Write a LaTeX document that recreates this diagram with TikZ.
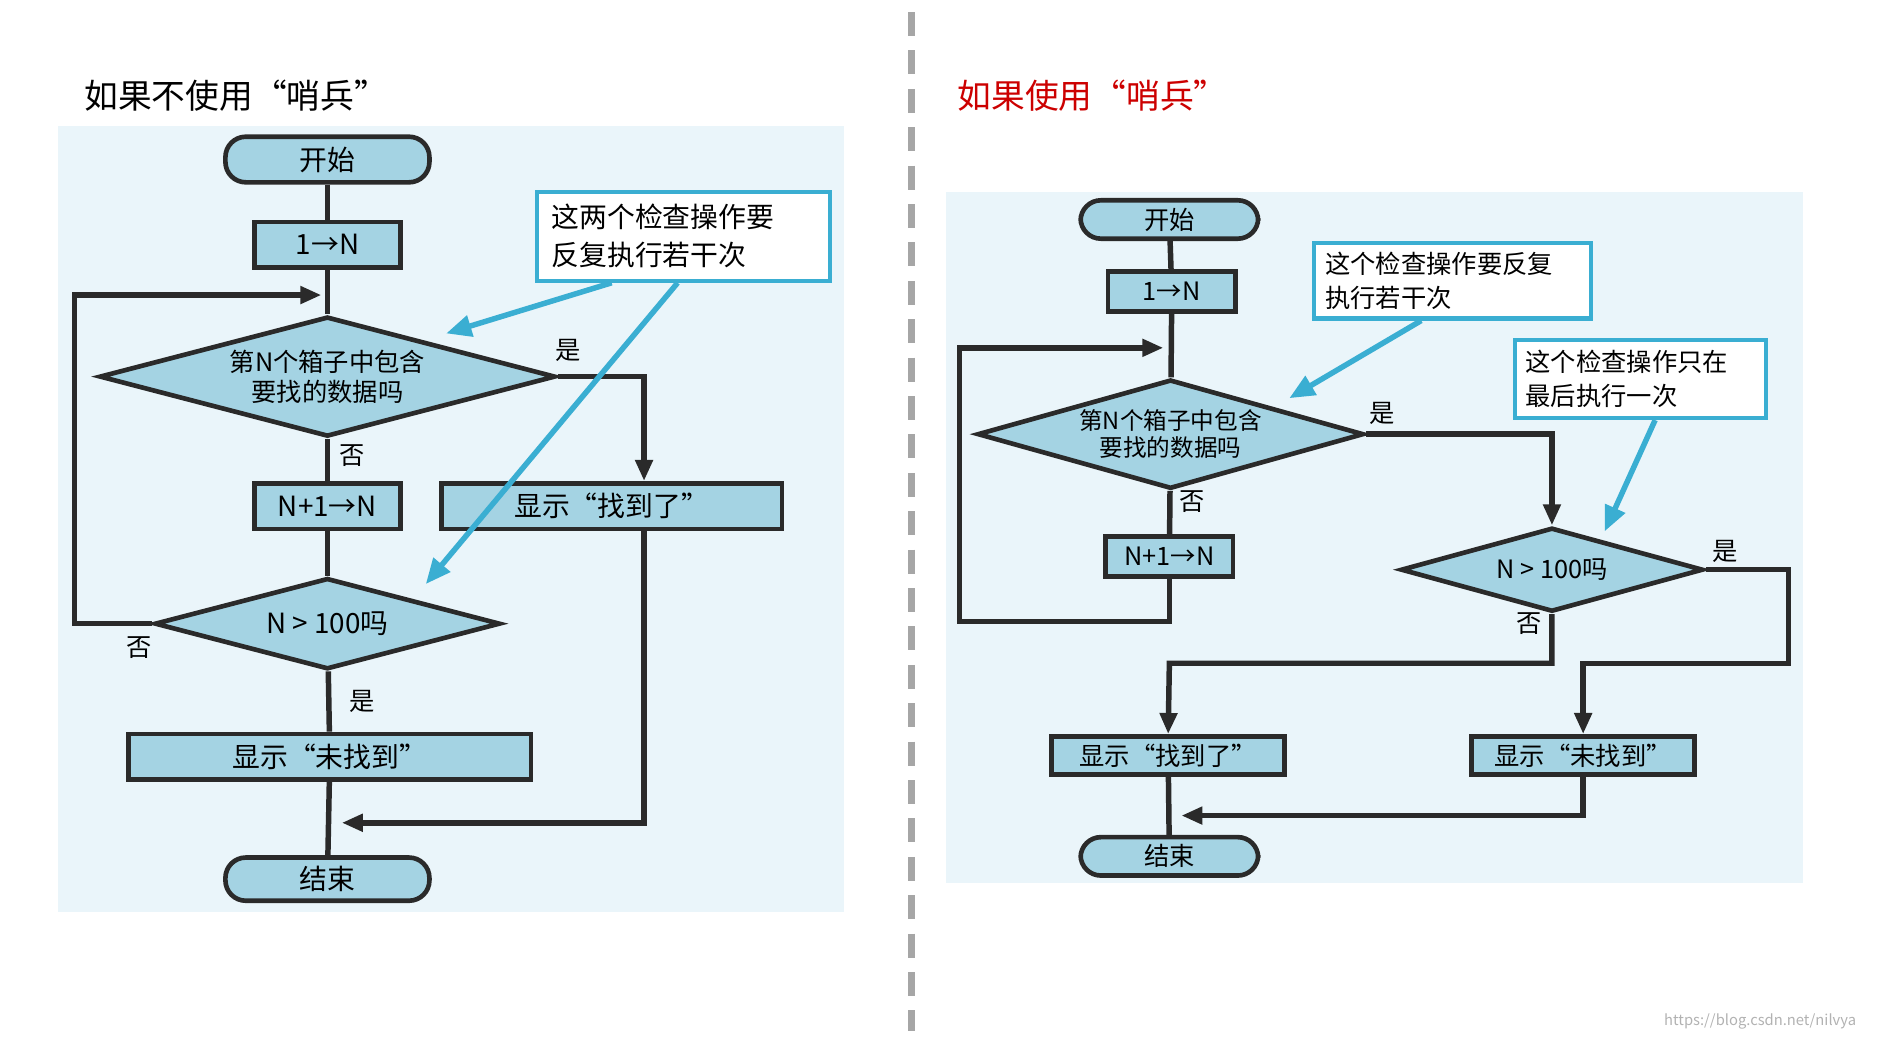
\documentclass[tikz,border=0pt]{standalone}
\usepackage{fontspec}
\setmainfont{Noto Sans CJK SC}
\usetikzlibrary{shapes.geometric,arrows.meta}
\definecolor{bgblue}{HTML}{EAF5FA}
\definecolor{boxblue}{HTML}{A4D3E3}
\definecolor{callcyan}{HTML}{3AAED2}
\definecolor{edge}{HTML}{2A2A2A}
\tikzset{
  box/.style={draw=edge, line width=1.1pt, fill=boxblue, inner sep=0pt},
  term/.style={box, rounded corners=0.17cm},
  dec/.style={box, diamond, align=center, font=\fontsize{6}{7}\selectfont},
  call/.style={draw=callcyan, line width=1pt, fill=white, align=left, inner sep=0pt, font=\fontsize{6.6}{9}\selectfont},
  flow/.style={draw=edge, line width=1.3pt},
  arr/.style={flow, -{Triangle[length=5pt,width=4pt]}},
  callarr/.style={draw=callcyan, line width=1.3pt, -{Triangle[length=6pt,width=5pt]}},
  lab/.style={font=\fontsize{6}{7}\selectfont}
}
\begin{document}
\begin{tikzpicture}[x=0.01cm, y=-0.01cm]
\useasboundingbox (0,0) rectangle (1565,866);

% titles and divider
\node[anchor=west, font=\fontsize{8}{9}\selectfont] (tleft) at (58,80) {如果不使用“哨兵”};
\node[anchor=west, font=\fontsize{8}{9}\selectfont, text=red!80!black] (tright) at (786,80) {如果使用“哨兵”};
\draw[gray!70, line width=1.5pt, dash pattern=on 0.2cm off 0.12cm] (760,10) -- (760,860);
\node[anchor=east, font=\fontsize{3.5}{4}\selectfont, text=gray!60] (wm) at (1560,852) {https://blog.csdn.net/nilvya};

% left flowchart
\fill[bgblue] (48,105) rectangle (704,760);
\node[term, minimum width=1.70cm, minimum height=0.38cm, font=\fontsize{6.6}{7}\selectfont] (ls) at (273,133) {开始};
\node[box, minimum width=1.22cm, minimum height=0.38cm, font=\fontsize{6.6}{7}\selectfont] (li) at (273,204) {1→N};
\node[dec, minimum width=3.80cm, minimum height=1.00cm, shape aspect=3.8] (ld1) at (273,314) {第N个箱子中包含\\要找的数据吗};
\node[box, minimum width=1.22cm, minimum height=0.38cm, font=\fontsize{6.6}{7}\selectfont] (ln) at (273,422) {N+1→N};
\node[box, minimum width=2.84cm, minimum height=0.38cm, font=\fontsize{6.6}{7}\selectfont] (lf) at (510,422) {显示“找到了”};
\node[dec, minimum width=2.88cm, minimum height=0.76cm, shape aspect=3.8, font=\fontsize{6.6}{7}\selectfont] (ld2) at (273,520) {N > 100吗};
\node[box, minimum width=3.35cm, minimum height=0.38cm, font=\fontsize{6.6}{7}\selectfont] (lu) at (275,631) {显示“未找到”};
\node[term, minimum width=1.70cm, minimum height=0.36cm, font=\fontsize{6.6}{7}\selectfont] (le) at (273,733) {结束};
\node[call, minimum width=2.44cm, minimum height=0.74cm, text width=2.20cm] (lc) at (570,197) {这两个检查操作要\\反复执行若干次};
\coordinate (lloop) at (268,246);
\coordinate (lend) at (285,686);

\draw[flow] (ls) -- (li);
\draw[flow] (li) -- (ld1);
\draw[flow] (ld1) -- (ln);
\draw[flow] (ln) -- (ld2);
\draw[flow] (ld2) -- (lu);
\draw[flow] (lu) -- (le);
\draw[arr] (ld2.west) -- (62,520) |- (lloop);
\draw[arr] (ld1.east) -| (lf.north -| 537,0);
\draw[arr] (lf.south -| 537,0) |- (lend);
\draw[callarr] (lc.south -| 510,0) -- (372,278);
\draw[callarr] (lc.south -| 565,0) -- (355,487);
\node[lab] (ly1) at (474,292) {是};
\node[lab] (ln1) at (294,380) {否};
\node[lab] (ln2) at (116,540) {否};
\node[lab] (ly2) at (302,585) {是};

% right flowchart
\fill[bgblue] (789,160) rectangle (1503,736);
\node[term, minimum width=1.48cm, minimum height=0.32cm, font=\fontsize{6}{7}\selectfont] (rs) at (975,183) {开始};
\node[box, minimum width=1.06cm, minimum height=0.33cm, font=\fontsize{6}{7}\selectfont] (ri) at (977,243) {1→N};
\node[dec, minimum width=3.22cm, minimum height=0.91cm, shape aspect=3.54, font=\fontsize{5.6}{6.5}\selectfont] (rd1) at (976,362) {第N个箱子中包含\\要找的数据吗};
\node[box, minimum width=1.06cm, minimum height=0.33cm, font=\fontsize{6}{7}\selectfont] (rn) at (975,464) {N+1→N};
\node[dec, minimum width=2.52cm, minimum height=0.70cm, shape aspect=3.6, font=\fontsize{6}{7}\selectfont] (rd2) at (1294,475) {N > 100吗};
\node[box, minimum width=1.94cm, minimum height=0.32cm, font=\fontsize{6}{7}\selectfont] (rf) at (974,630) {显示“找到了”};
\node[box, minimum width=1.86cm, minimum height=0.32cm, font=\fontsize{6}{7}\selectfont] (ru) at (1320,630) {显示“未找到”};
\node[term, minimum width=1.48cm, minimum height=0.32cm, font=\fontsize{6}{7}\selectfont] (re) at (975,714) {结束};
\node[call, minimum width=2.31cm, minimum height=0.63cm, text width=2.12cm, font=\fontsize{6}{8}\selectfont] (rc1) at (1211,234) {这个检查操作要反复\\执行若干次};
\node[call, minimum width=2.09cm, minimum height=0.65cm, text width=1.92cm, font=\fontsize{6}{8}\selectfont] (rc2) at (1368,316) {这个检查操作只在\\最后执行一次};
\coordinate (rloop) at (970,290);
\coordinate (rend) at (985,680);

\draw[flow] (rs) -- (ri);
\draw[flow] (ri) -- (rd1);
\draw[flow] (rd1) -- (rn);
\draw[flow] (rf) -- (re);
\draw[arr] (rn) -- (975,518) -| (800,290) -- (rloop);
\draw[arr] (rd1.east) -| (rd2.north);
\draw[arr] (rd2.east) -| (1491,553) -| (ru.north);
\draw[arr] (rd2.south) |- (975,553) -- (rf.north);
\draw[arr] (ru.south) |- (rend);
\draw[callarr] (rc1.south -| 1185,0) -- (1075,332);
\draw[callarr] (rc2.south -| 1380,0) -- (1338,443);
\node[lab] (ry1) at (1152,345) {是};
\node[lab] (rn1) at (994,418) {否};
\node[lab] (ry2) at (1438,460) {是};
\node[lab] (rn2) at (1275,520) {否};
\end{tikzpicture}
\end{document}
